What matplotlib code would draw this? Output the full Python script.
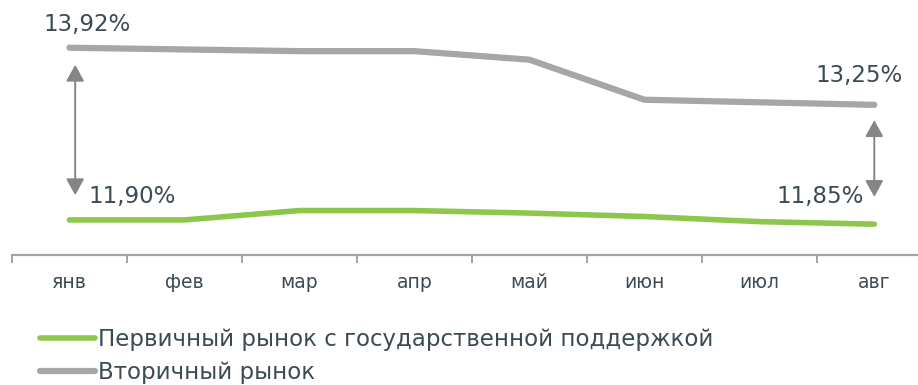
import numpy as np
import matplotlib
matplotlib.use('Agg')
import matplotlib.pyplot as plt

months = ['янв', 'фев', 'мар', 'апр', 'май', 'июн', 'июл', 'авг']
primary = [11.90, 11.90, 12.01, 12.01, 11.98, 11.94, 11.88, 11.85]
secondary = [13.92, 13.90, 13.88, 13.88, 13.78, 13.31, 13.28, 13.25]
names = ['Первичный рынок с государственной поддержкой', 'Вторичный рынок']

green = '#8cc64a'
grey = '#a4a7a6'
txt = '#3b4b53'

fig = plt.figure(figsize=(9.18, 3.85), dpi=100)
ax = fig.add_axes([0.013, 0.338, 0.987, 0.662])
x = np.arange(len(months))

ax.plot(x, primary, color=green, lw=4.0, solid_capstyle='round', label=names[0])
ax.plot(x, secondary, color=grey, lw=4.5, solid_capstyle='round', label=names[1])

ax.set_xlim(-0.5, 7.38)
ax.set_ylim(11.49, 14.48)

for s in ['top', 'right', 'left']:
    ax.spines[s].set_visible(False)
ax.spines['bottom'].set_color('#a0a4a4')
ax.spines['bottom'].set_linewidth(1.6)
ax.set_yticks([])
ax.set_xticks(np.arange(-0.5, 7.5, 1.0))
ax.set_xticklabels([])
ax.set_xticks(x, minor=True)
ax.set_xticklabels(months, minor=True, fontsize=13.5, color=txt)
ax.tick_params(axis='x', which='major', length=6, width=1.4, color='#a0a4a4', direction='out')
ax.tick_params(axis='x', which='minor', length=0, pad=13)

# value labels
ax.annotate(f'{secondary[0]:.2f}%'.replace('.', ','), (x[0], secondary[0]), xytext=(13, 17),
            textcoords='offset points', ha='center', va='center', fontsize=16.5, color=txt)
ax.annotate(f'{primary[0]:.2f}%'.replace('.', ','), (x[0], primary[0]), xytext=(45, 17),
            textcoords='offset points', ha='center', va='center', fontsize=16.5, color=txt)
ax.annotate(f'{secondary[-1]:.2f}%'.replace('.', ','), (x[-1], secondary[-1]), xytext=(-11, 21),
            textcoords='offset points', ha='center', va='center', fontsize=16.5, color=txt)
ax.annotate(f'{primary[-1]:.2f}%'.replace('.', ','), (x[-1], primary[-1]), xytext=(-39, 20),
            textcoords='offset points', ha='center', va='center', fontsize=16.5, color=txt)

# gap arrows
arr = dict(arrowstyle='<|-|>,head_length=1.0,head_width=0.55', color='#858585', lw=1.4,
           shrinkA=0, shrinkB=0)
ax.annotate('', xy=(x[0] + 0.05, secondary[0] - 0.2), xytext=(x[0] + 0.05, primary[0] + 0.29),
            arrowprops=arr)
ax.annotate('', xy=(x[-1], secondary[-1] - 0.18), xytext=(x[-1], primary[-1] + 0.32),
            arrowprops=arr)

fig.legend(loc='upper left', bbox_to_anchor=(0.0436, 0.147), bbox_transform=fig.transFigure,
           frameon=False, fontsize=16.5, handlelength=2.4, handletextpad=0.13,
           labelspacing=0.4, borderpad=0, borderaxespad=0, labelcolor=txt)

fig.savefig('out.png', dpi=100)
